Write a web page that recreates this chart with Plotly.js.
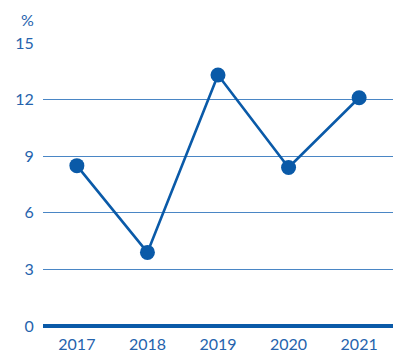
<!DOCTYPE html>
<html>
<head>
<meta charset="utf-8">
<script src="https://cdn.plot.ly/plotly-3.0.1.min.js"></script>
<style>html,body{margin:0;padding:0;background:#fff;}#chart{width:393px;height:354px;}</style>
</head>
<body>
<div id="chart"></div>
<script>
const years = ['2017', '2018', '2019', '2020', '2021'];
const values = [8.5, 3.9, 13.3, 8.4, 12.1];
const yTicks = [0, 3, 6, 9, 12, 15];
const unitLabel = '%';

const blue = '#0a5aa8';
const textBlue = '#2563ad';
const font = {family: 'Lato, "Open Sans", sans-serif', size: 16, color: textBlue};

const trace = {
  x: years,
  y: values,
  type: 'scatter',
  mode: 'lines+markers',
  line: {color: blue, width: 2.6},
  marker: {color: blue, size: 15},
  cliponaxis: false,
  hoverinfo: 'skip'
};

const layout = {
  width: 393,
  height: 354,
  margin: {l: 43, r: 0, t: 43, b: 28},
  paper_bgcolor: '#fff',
  plot_bgcolor: '#fff',
  showlegend: false,
  font: font,
  xaxis: {
    type: 'category',
    range: [-0.48, 4.48],
    showgrid: false,
    zeroline: false,
    showline: false,
    ticks: 'outside',
    ticklen: 4,
    tickcolor: 'rgba(0,0,0,0)',
    tickfont: font,
    fixedrange: true
  },
  yaxis: {
    range: [0, 15],
    tickvals: yTicks,
    ticktext: yTicks.map(String),
    showgrid: true,
    gridcolor: '#4a86c5',
    gridwidth: 1,
    zeroline: true,
    zerolinecolor: blue,
    zerolinewidth: 4.5,
    showline: false,
    ticks: 'outside',
    ticklen: 5,
    tickcolor: 'rgba(0,0,0,0)',
    tickfont: font,
    fixedrange: true
  },
  annotations: [{
    text: unitLabel,
    xref: 'paper', yref: 'paper',
    x: 0, y: 1,
    xshift: -16, yshift: 24,
    xanchor: 'center', yanchor: 'middle',
    showarrow: false,
    font: font
  }]
};

Plotly.newPlot('chart', [trace], layout, {displayModeBar: false, staticPlot: true});
</script>
</body>
</html>
